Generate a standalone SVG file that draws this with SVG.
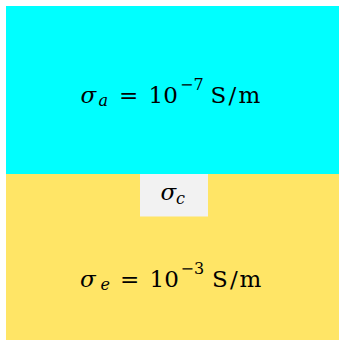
<svg xmlns="http://www.w3.org/2000/svg" width="339" height="340" viewBox="0 0 339 340">
<style>
.t{font-family:"DejaVu Serif","Liberation Serif",serif;font-size:23px;fill:#000}
.i{font-style:italic}
.s{font-size:16px}
</style>
<rect x="0" y="0" width="339" height="340" fill="#fff"/>
<g id="region-a">
<rect x="6" y="6" width="333" height="168" fill="#00ffff"/>
<text class="t"><tspan class="i" x="80.5" y="103">σ</tspan><tspan class="i s" x="98.5" y="106">a</tspan><tspan x="119" y="103">=</tspan><tspan x="148.5" y="103">10</tspan><tspan class="s" x="180" y="90">−7</tspan><tspan x="210.5" y="103">S</tspan><tspan x="228.5" y="103">/</tspan><tspan x="238.5" y="103">m</tspan></text>
</g>
<g id="region-e">
<rect x="6" y="174" width="333" height="166" fill="#ffe566"/>
<text class="t"><tspan class="i" x="80" y="286.5">σ</tspan><tspan class="i s" x="100.5" y="289.5">e</tspan><tspan x="120" y="286.5">=</tspan><tspan x="149.5" y="286.5">10</tspan><tspan class="s" x="180.5" y="273.5">−3</tspan><tspan x="212" y="286.5">S</tspan><tspan x="230" y="286.5">/</tspan><tspan x="239.5" y="286.5">m</tspan></text>
</g>
<g id="region-c">
<rect x="140" y="174" width="68" height="42.5" fill="#f2f2f2"/>
<text class="t"><tspan class="i" x="160.5" y="200">σ</tspan><tspan class="i s" x="176" y="203.5">c</tspan></text>
</g>
</svg>
